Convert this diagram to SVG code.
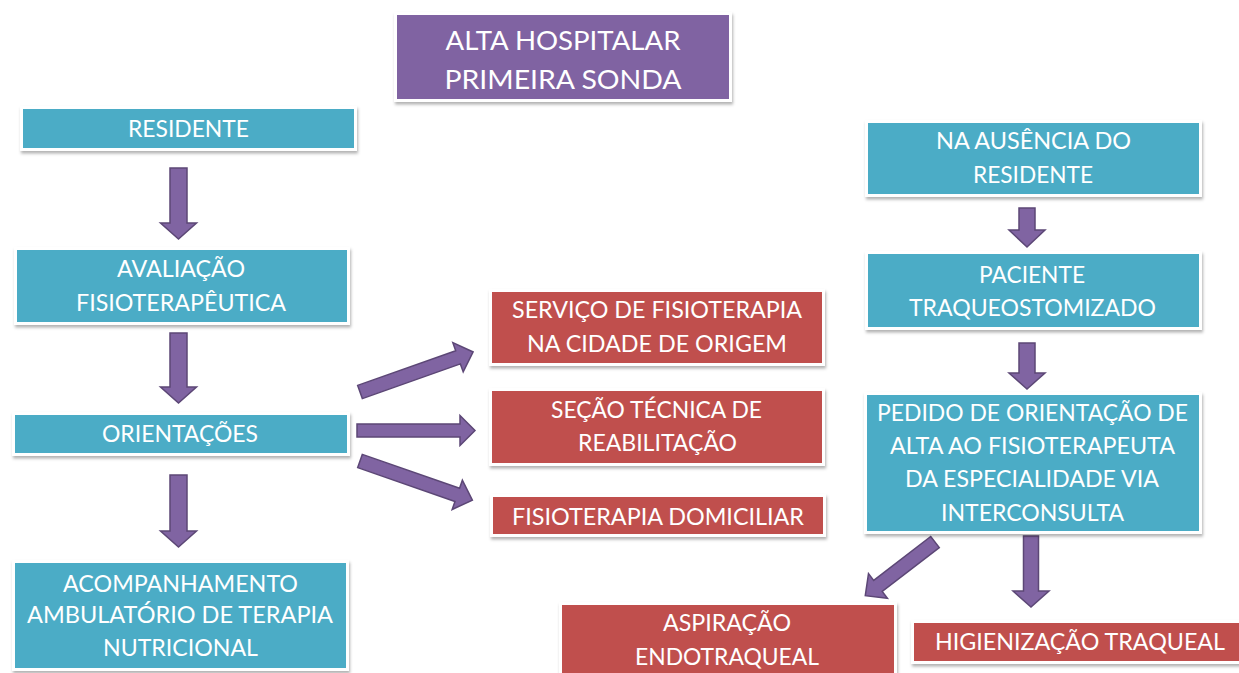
<svg xmlns="http://www.w3.org/2000/svg" width="1239" height="673" viewBox="0 0 1239 673">
<defs>
<filter id="sh" x="-10%" y="-20%" width="120%" height="150%">
<feDropShadow dx="1" dy="2.5" stdDeviation="1.5" flood-color="#000" flood-opacity="0.3"/>
</filter>
<style>
.bx{stroke:#fff;stroke-width:3;filter:url(#sh)}
.teal{fill:#4BACC6}
.red{fill:#C0504D}
.pur{fill:#8064A2}
.t{font-family:Lato,"Open Sans","Liberation Sans",sans-serif;font-size:23.5px;fill:#fff;text-anchor:middle}
.tt{font-size:26.5px}
.ar{fill:#8064A2;stroke:#5C4776;stroke-width:1.5;stroke-linejoin:miter}
</style>
</defs>
<rect width="1239" height="673" fill="#fff"/>

<g id="connectors">
<path class="ar" transform="translate(178.5,168) rotate(90)" d="M0,-8.5 L55,-8.5 L55,-18 L71,0 L55,18 L55,8.5 L0,8.5 Z"/>
<path class="ar" transform="translate(178.5,333) rotate(90)" d="M0,-8.5 L54,-8.5 L54,-18 L70,0 L54,18 L54,8.5 L0,8.5 Z"/>
<path class="ar" transform="translate(178.5,475) rotate(90)" d="M0,-8.5 L56,-8.5 L56,-18 L72,0 L56,18 L56,8.5 L0,8.5 Z"/>
<path class="ar" transform="translate(360,392) rotate(-19.5)" d="M0,-7 L104,-7 L104,-15.5 L120,0 L104,15.5 L104,7 L0,7 Z"/>
<path class="ar" transform="translate(357,430.5)" d="M0,-6.5 L103,-6.5 L103,-15 L118,0 L103,15 L103,6.5 L0,6.5 Z"/>
<path class="ar" transform="translate(360,461) rotate(19.2)" d="M0,-7 L103,-7 L103,-15.5 L119,0 L103,15.5 L103,7 L0,7 Z"/>
<path class="ar" transform="translate(1027,208) rotate(90)" d="M0,-8 L22,-8 L22,-18 L39,0 L22,18 L22,8 L0,8 Z"/>
<path class="ar" transform="translate(1027,343) rotate(90)" d="M0,-8 L30,-8 L30,-18 L46,0 L30,18 L30,8 L0,8 Z"/>
<path class="ar" transform="translate(1031,536) rotate(90)" d="M0,-7.5 L55,-7.5 L55,-18 L71,0 L55,18 L55,7.5 L0,7.5 Z"/>
<path class="ar" transform="translate(935,542) rotate(142.4)" d="M0,-7 L72,-7 L72,-15.5 L88,0 L72,15.5 L72,7 L0,7 Z"/>
</g>

<g id="title">
<rect class="bx pur" x="395.5" y="13.5" width="335" height="87"/>
<text class="t tt" x="563" y="50" textLength="235" lengthAdjust="spacingAndGlyphs">ALTA HOSPITALAR</text>
<text class="t tt" x="563" y="89" textLength="237" lengthAdjust="spacingAndGlyphs">PRIMEIRA SONDA</text>
</g>

<g id="residente">
<rect class="bx teal" x="21.5" y="107.5" width="334" height="42"/>
<text class="t" x="188.5" y="137" textLength="121" lengthAdjust="spacingAndGlyphs">RESIDENTE</text>
</g>

<g id="avaliacao">
<rect class="bx teal" x="15.5" y="248.5" width="333" height="75"/>
<text class="t" x="181" y="277" textLength="128" lengthAdjust="spacingAndGlyphs">AVALIAÇÃO</text>
<text class="t" x="181" y="311" textLength="210" lengthAdjust="spacingAndGlyphs">FISIOTERAPÊUTICA</text>
</g>

<g id="orientacoes">
<rect class="bx teal" x="13.5" y="413.5" width="335" height="41"/>
<text class="t" x="180" y="442" textLength="156" lengthAdjust="spacingAndGlyphs">ORIENTAÇÕES</text>
</g>

<g id="acompanhamento">
<rect class="bx teal" x="13.5" y="561.5" width="334" height="108"/>
<text class="t" x="180.5" y="592" textLength="235" lengthAdjust="spacingAndGlyphs">ACOMPANHAMENTO</text>
<text class="t" x="180" y="623" textLength="306" lengthAdjust="spacingAndGlyphs">AMBULATÓRIO DE TERAPIA</text>
<text class="t" x="180.5" y="656" textLength="155" lengthAdjust="spacingAndGlyphs">NUTRICIONAL</text>
</g>

<g id="servico">
<rect class="bx red" x="490.5" y="290.5" width="333" height="74"/>
<text class="t" x="657" y="318" textLength="290" lengthAdjust="spacingAndGlyphs">SERVIÇO DE FISIOTERAPIA</text>
<text class="t" x="657" y="352" textLength="260" lengthAdjust="spacingAndGlyphs">NA CIDADE DE ORIGEM</text>
</g>

<g id="secao">
<rect class="bx red" x="490.5" y="389.5" width="333" height="75"/>
<text class="t" x="656.5" y="418" textLength="211" lengthAdjust="spacingAndGlyphs">SEÇÃO TÉCNICA DE</text>
<text class="t" x="657.5" y="451" textLength="159" lengthAdjust="spacingAndGlyphs">REABILITAÇÃO</text>
</g>

<g id="domiciliar">
<rect class="bx red" x="491.5" y="495.5" width="333" height="40"/>
<text class="t" x="658" y="525" textLength="292" lengthAdjust="spacingAndGlyphs">FISIOTERAPIA DOMICILIAR</text>
</g>

<g id="ausencia">
<rect class="bx teal" x="866.5" y="121.5" width="334" height="74"/>
<text class="t" x="1033.5" y="149" textLength="195" lengthAdjust="spacingAndGlyphs">NA AUSÊNCIA DO</text>
<text class="t" x="1033" y="183" textLength="120" lengthAdjust="spacingAndGlyphs">RESIDENTE</text>
</g>

<g id="paciente">
<rect class="bx teal" x="866.5" y="252.5" width="334" height="76"/>
<text class="t" x="1032" y="283" textLength="106" lengthAdjust="spacingAndGlyphs">PACIENTE</text>
<text class="t" x="1032.5" y="316" textLength="247" lengthAdjust="spacingAndGlyphs">TRAQUEOSTOMIZADO</text>
</g>

<g id="pedido">
<rect class="bx teal" x="865.5" y="393.5" width="335" height="139"/>
<text class="t" x="1032.5" y="421" textLength="311" lengthAdjust="spacingAndGlyphs">PEDIDO DE ORIENTAÇÃO DE</text>
<text class="t" x="1032.5" y="454" textLength="285" lengthAdjust="spacingAndGlyphs">ALTA AO FISIOTERAPEUTA</text>
<text class="t" x="1032" y="487" textLength="254" lengthAdjust="spacingAndGlyphs">DA ESPECIALIDADE VIA</text>
<text class="t" x="1032.5" y="521" textLength="183" lengthAdjust="spacingAndGlyphs">INTERCONSULTA</text>
</g>

<g id="aspiracao">
<rect class="bx red" x="560.5" y="603.5" width="335" height="80"/>
<text class="t" x="727" y="631" textLength="128" lengthAdjust="spacingAndGlyphs">ASPIRAÇÃO</text>
<text class="t" x="727" y="665" textLength="184" lengthAdjust="spacingAndGlyphs">ENDOTRAQUEAL</text>
</g>

<g id="higienizacao">
<rect class="bx red" x="912.5" y="621.5" width="330" height="41"/>
<text class="t" x="1080" y="650" textLength="290" lengthAdjust="spacingAndGlyphs">HIGIENIZAÇÃO TRAQUEAL</text>
</g>
</svg>
